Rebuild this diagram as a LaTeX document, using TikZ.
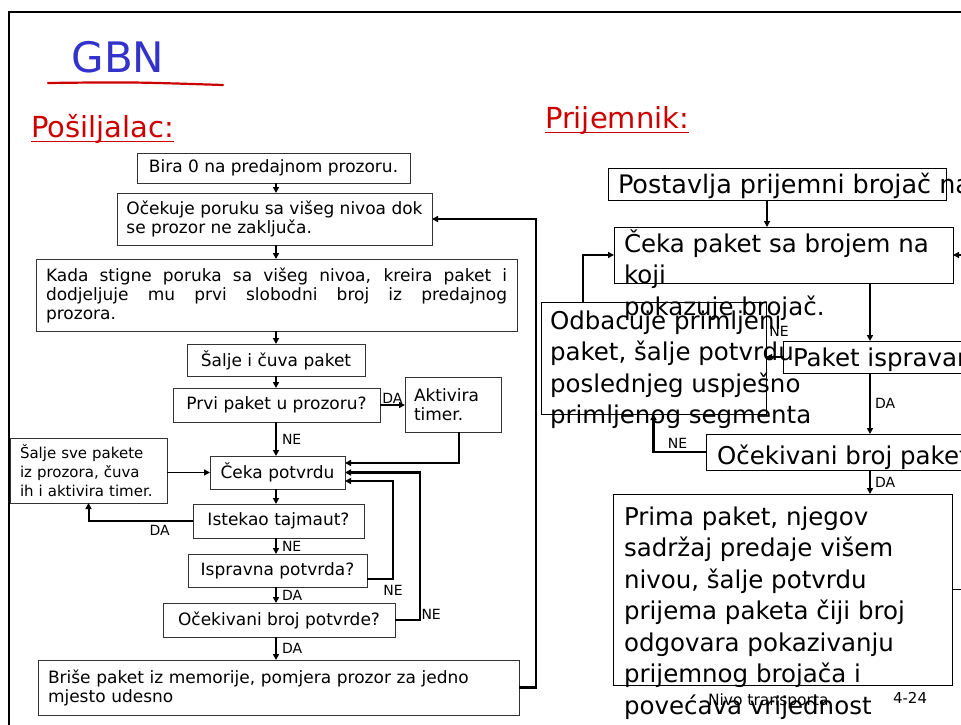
\documentclass[tikz,border=0pt]{standalone}
\usepackage{fontspec}
\setmainfont{DejaVu Sans}
\usetikzlibrary{arrows.meta}
\definecolor{titleblue}{RGB}{51,51,204}
\definecolor{headred}{RGB}{204,0,0}

\begin{document}
\begin{tikzpicture}[x=1pt,y=-1pt,
  every node/.style={inner sep=0pt, outer sep=0pt, text=black},
  sbox/.style={draw=black!80, line width=0.9pt, font=\fontsize{17}{19}\selectfont},
  rbox/.style={draw=black, line width=0.9pt},
  rtext/.style={anchor=base west, font=\fontsize{24.5}{31.5}\selectfont},
  lbl/.style={font=\fontsize{14}{14}\selectfont},
  conn/.style={line width=1.5pt, -{Triangle[length=6pt,width=6pt]}},
  loopconn/.style={line width=2.5pt, -{Triangle[length=6pt,width=6pt]}},
]
\useasboundingbox (0,0) rectangle (961,725);

% slide frame
\draw[line width=2.8pt] (9,740) -- (9,12) -- (975,12);

% headings
\node[anchor=base, font=\fontsize{42}{42}\selectfont, text=titleblue] (gbn) at (118,73) {GBN};
\draw[headred, line width=2.2pt, line cap=round] (48,83) .. controls (130,82) .. (223,85);
\node[anchor=base west, font=\fontsize{29}{29}\selectfont, text=headred] (sender) at (31,137) {Pošiljalac:};
\draw[headred, line width=1.6pt] ([yshift=-4.5pt]sender.base west) -- ([yshift=-4.5pt]sender.base east);
\node[anchor=base west, font=\fontsize{29}{29}\selectfont, text=headred] (receiver) at (545,128) {Prijemnik:};
\draw[headred, line width=1.6pt] ([yshift=-4.5pt]receiver.base west) -- ([yshift=-4.5pt]receiver.base east);

% ---------------- sender flow ----------------
\node[sbox, minimum width=273pt, minimum height=30pt] (b1) at (273.5,168) {Bira 0 na predajnom prozoru.};
\node[sbox, minimum width=315pt, minimum height=52pt, align=left] (b2) at (274.5,219) {Očekuje poruku sa višeg nivoa dok\\se prozor ne zaključa.};
\node[sbox, minimum width=481pt, minimum height=72pt] (b3) at (276.5,295)
  {\parbox{461pt}{\tolerance=10000 \hyphenpenalty=10000 Kada stigne poruka sa višeg nivoa, kreira paket i\linebreak dodjeljuje mu prvi slobodni broj iz predajnog\linebreak prozora.}};
\node[sbox, minimum width=178pt, minimum height=32pt] (b4) at (276,360) {Šalje i čuva paket};
\node[sbox, minimum width=207pt, minimum height=34pt] (b5) at (276.5,405) {Prvi paket u prozoru?};
\node[sbox, minimum width=96pt, minimum height=55pt, align=left, text width=78pt] (b6) at (453,404.5) {Aktivira\\timer.};
\node[sbox, minimum width=157pt, minimum height=65pt, align=left, text width=137pt, font=\fontsize{15}{19}\selectfont] (b7) at (88.5,470.5) {Šalje sve pakete\\iz prozora, čuva\\ih i aktivira timer.};
\node[sbox, minimum width=135pt, minimum height=33pt] (b8) at (277.5,472.5) {Čeka potvrdu};
\node[sbox, minimum width=171pt, minimum height=34pt] (b9) at (278.5,521) {Istekao tajmaut?};
\node[sbox, minimum width=179pt, minimum height=33pt] (b10) at (277.5,570.5) {Ispravna potvrda?};
\node[sbox, minimum width=232pt, minimum height=34pt] (b11) at (279,620) {Očekivani broj potvrde?};
\node[sbox, minimum width=481pt, minimum height=55pt, align=left, text width=461pt] (b12) at (278.5,687.5) {Briše paket iz memorije, pomjera prozor za jedno\\mjesto udesno};

% routing columns
\coordinate (sp) at (276,0);
\coordinate (k6) at (459,0);
\coordinate (kA) at (393,0);
\coordinate (kB) at (420,0);
\coordinate (kC) at (536,0);
\coordinate (b8i1) at ([yshift=9.5pt]b8.east);
\coordinate (b8i2) at ([yshift=-8.5pt]b8.east);
\coordinate (b10o) at ([yshift=-8.5pt]b10.east);

\draw[conn] (b1.south -| sp) -- (b2.north -| sp);
\draw[conn] (b2.south -| sp) -- (b3.north -| sp);
\draw[conn] (b3.south -| sp) -- (b4.north -| sp);
\draw[conn] (b4.south -| sp) -- (b5.north -| sp);
\draw[conn, line width=2pt] (b5.south -| sp) -- node[lbl, right=6pt]{NE} (b8.north -| sp);
\draw[conn] (b5.east) -- node[lbl, above=2pt]{DA} (b6.west |- b5.east);
\draw[loopconn] (b6.south -| k6) |- (b8i1);
\draw[conn] (b7.east |- b8.west) -- (b8.west);
\draw[conn] (b8.south -| sp) -- (b9.north -| sp);
\draw[conn, line width=2pt] (b9.west) -| node[lbl, pos=0.16, below=4pt]{DA} (b7.south);
\draw[conn] (b9.south -| sp) -- node[lbl, right=6pt]{NE} (b10.north -| sp);
\draw[conn] (b10.south -| sp) -- node[lbl, right=6pt]{DA} (b11.north -| sp);
\draw[conn] (b11.south -| sp) -- node[lbl, right=6pt]{DA} (b12.north -| sp);
\draw[loopconn] (b10o) -| node[lbl, below=6pt]{NE} (kA |- b8i2) -- (b8i2);
\draw[loopconn] (b11.east) -| node[lbl, anchor=south west, xshift=1.5pt, yshift=0.5pt]{NE} (kB |- b8.east) -- (b8.east);
\draw[loopconn] (b12.east) -| (kC |- b2.east) -- (b2.east);

% ---------------- receiver flow ----------------
\node[rbox, minimum width=338pt, minimum height=32pt] (r1) at (777,184) {};
\node[rbox, minimum width=339pt, minimum height=56pt] (r2) at (783.5,255) {};
\node[rbox, minimum width=192pt, minimum height=32pt] (r3) at (879,357) {};
\node[rbox, minimum width=225pt, minimum height=112pt] (r4) at (653.5,358) {};
\node[rbox, minimum width=269pt, minimum height=36pt] (r5) at (840.5,452) {};
\node[rbox, minimum width=339pt, minimum height=191pt] (r6) at (782.5,589.5) {};

\coordinate (ra) at (767,0);
\coordinate (rb) at (870,0);
\coordinate (rc) at (583,0);
\coordinate (rin) at (975,255);
\coordinate (rout) at (975,589.5);

\draw[conn, line width=1.3pt] (r1.south -| ra) -- (r2.north -| ra);
\draw[conn, line width=1.3pt] (rin) -- (r2.east);
\draw[conn] (r2.south -| rb) -- (r3.north -| rb);
\draw[conn, line width=1.3pt] (r3.west) -- (r4.east |- r3.west);
\draw[conn, line width=2pt] (r4.north -| rc) |- (r2.west);
\draw[conn] (r3.south -| rb) -- node[lbl, right=5pt]{DA} (r5.north -| rb);
\draw[conn, line width=2.2pt] (r5.west) -| node[lbl, pos=0.27, above=4pt]{NE} (r4.south);
\draw[conn] (r5.south -| rb) -- node[lbl, right=5pt]{DA} (r6.north -| rb);
\draw[line width=1.5pt] (r6.east) -- (rout);

\node[rtext, font=\fontsize{25.5}{31.5}\selectfont] (r1t) at (618,193) {Postavlja prijemni brojač na};
\node[rtext] (r2t) at (624,252) {\parbox[t]{400pt}{Čeka paket sa brojem na\\koji\\pokazuje brojač.}};
\node[rtext] (r3t) at (793,366) {Paket ispravan};
\node[rtext] (r4t) at (550,329) {\parbox[t]{300pt}{Odbacuje primljeni\\paket, šalje potvrdu\\poslednjeg uspješno\\primljenog segmenta}};
\node[rtext] (r5t) at (717,464) {Očekivani broj paketa};
\node[rtext] (r6t) at (624,525) {\parbox[t]{400pt}{Prima paket, njegov\\sadržaj predaje višem\\nivou, šalje potvrdu\\prijema paketa čiji broj\\odgovara pokazivanju\\prijemnog brojača i\\povećava vrijednost}};
\node[lbl] (r3ne) at (779,331) {NE};

% footer
\node[anchor=base west, font=\fontsize{15.5}{16}\selectfont] (foot) at (708,705) {Nivo transporta};
\node[anchor=base west, font=\fontsize{15}{16}\selectfont] (pg) at (893,703) {4-24};
\end{tikzpicture}
\end{document}
